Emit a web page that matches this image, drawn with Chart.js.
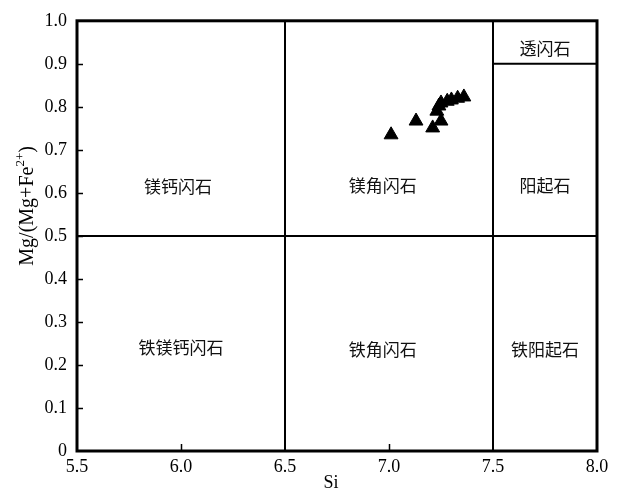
<!DOCTYPE html>
<html>
<head>
<meta charset="utf-8">
<script src="https://cdn.jsdelivr.net/npm/chart.js@4/dist/chart.umd.min.js"></script>
<style>
  html, body { margin: 0; padding: 0; background: #fff; }
  #wrap { width: 624px; height: 492px; }
</style>
</head>
<body>
<div id="wrap"><canvas id="c" width="624" height="492"></canvas></div>
<script>
// Amphibole analyses: Si (apfu) against Mg/(Mg+Fe2+)
const siValues  = [7.01, 7.13, 7.21, 7.25, 7.23, 7.24, 7.25, 7.28, 7.30, 7.33, 7.36];
const mgNumbers = [0.735, 0.767, 0.751, 0.767, 0.790, 0.802, 0.809, 0.813, 0.816, 0.820, 0.823];

// Axis ticks
const xTicks = [5.5, 6.0, 6.5, 7.0, 7.5, 8.0];
const yTicks = [0, 0.1, 0.2, 0.3, 0.4, 0.5, 0.6, 0.7, 0.8, 0.9, 1.0];

// Classification field boundaries (Si, Mg#) pairs
const boundaryA = [[6.5, 0], [6.5, 1]];
const boundaryB = [[7.5, 0], [7.5, 1]];
const boundaryC = [[5.5, 0.5], [8.0, 0.5]];
const boundaryD = [[7.5, 0.9], [8.0, 0.9]];

// Field names and where they sit in data space
const fieldNames = ['镁钙闪石', '镁角闪石', '阳起石', '透闪石', '铁镁钙闪石', '铁角闪石', '铁阳起石'];
const fieldSi    = [5.985, 6.97, 7.75, 7.75, 6.0, 6.97, 7.75];
const fieldMg    = [0.615, 0.618, 0.618, 0.935, 0.24, 0.235, 0.235];

const SERIF = '"Liberation Serif", "Times New Roman", serif';
const CJK = '"Noto Sans CJK SC", sans-serif';

function lineSet(pairs) {
  return {
    data: pairs.map(p => ({ x: p[0], y: p[1] })),
    showLine: true,
    borderColor: '#000',
    borderWidth: 2,
    pointRadius: 0,
    pointHoverRadius: 0,
    fill: false,
    order: 2
  };
}

const diagramPlugin = {
  id: 'diagram',
  beforeDatasetsDraw(chart) {
    const ctx = chart.ctx;
    const xs = chart.scales.x, ys = chart.scales.y;
    ctx.save();
    ctx.fillStyle = '#111';
    ctx.font = '17px ' + CJK;
    ctx.textAlign = 'center';
    ctx.textBaseline = 'middle';
    fieldNames.forEach((n, i) => {
      ctx.fillText(n, xs.getPixelForValue(fieldSi[i]), ys.getPixelForValue(fieldMg[i]));
    });
    ctx.restore();
  },
  afterDatasetsDraw(chart) {
    const ctx = chart.ctx;
    const a = chart.chartArea;
    const xs = chart.scales.x, ys = chart.scales.y;
    ctx.save();
    ctx.strokeStyle = '#000';
    // inward tick marks
    ctx.lineWidth = 1.5;
    ctx.beginPath();
    yTicks.forEach(v => {
      if (v <= 0 || v >= 1) return;
      const py = Math.round(ys.getPixelForValue(v)) + 0.5;
      ctx.moveTo(a.left, py);
      ctx.lineTo(a.left + 6, py);
    });
    [6.0, 7.0].forEach(v => {
      const px = Math.round(xs.getPixelForValue(v)) + 0.5;
      ctx.moveTo(px, a.bottom);
      ctx.lineTo(px, a.bottom - 7);
    });
    ctx.stroke();
    // frame
    ctx.lineWidth = 3;
    ctx.strokeRect(a.left, a.top, a.right - a.left, a.bottom - a.top);

    // axis titles
    ctx.fillStyle = '#000';
    ctx.font = '18px ' + SERIF;
    ctx.textAlign = 'center';
    ctx.textBaseline = 'middle';
    ctx.fillText('Si', (a.left + a.right) / 2 - 6, 483);

    // rotated y title with superscript
    ctx.translate(26, (a.top + a.bottom) / 2 - 30);
    ctx.rotate(-Math.PI / 2);
    const main = 'Mg/(Mg+Fe';
    const sup = '2+';
    const tail = ')';
    ctx.font = '20px ' + SERIF;
    const w1 = ctx.measureText(main).width;
    const w3 = ctx.measureText(tail).width;
    ctx.font = '13px ' + SERIF;
    const w2 = ctx.measureText(sup).width;
    let x = -(w1 + w2 + w3) / 2;
    ctx.textAlign = 'left';
    ctx.textBaseline = 'alphabetic';
    ctx.font = '20px ' + SERIF;
    ctx.fillText(main, x, 7);
    x += w1;
    ctx.font = '13px ' + SERIF;
    ctx.fillText(sup, x, -2);
    x += w2;
    ctx.font = '20px ' + SERIF;
    ctx.fillText(tail, x, 7);
    ctx.restore();
  }
};

new Chart(document.getElementById('c'), {
  type: 'scatter',
  data: {
    datasets: [
      {
        data: siValues.map((s, i) => ({ x: s, y: mgNumbers[i] })),
        pointStyle: 'triangle',
        pointRadius: 8,
        pointHoverRadius: 8,
        backgroundColor: '#000',
        borderColor: '#000',
        borderWidth: 1,
        order: 1
      },
      lineSet(boundaryA),
      lineSet(boundaryB),
      lineSet(boundaryC),
      lineSet(boundaryD)
    ]
  },
  options: {
    responsive: false,
    animation: false,
    events: [],
    layout: { padding: { top: 17, right: 27, left: 0, bottom: 0 } },
    plugins: { legend: { display: false }, tooltip: { enabled: false } },
    scales: {
      x: {
        type: 'linear',
        min: 5.5, max: 8.0,
        afterBuildTicks: s => { s.ticks = xTicks.map(v => ({ value: v })); },
        afterFit: s => { s.height = 41; },
        grid: { display: false, drawTicks: false },
        border: { display: false },
        ticks: {
          color: '#000',
          padding: 5,
          maxRotation: 0,
          font: { family: SERIF, size: 18 },
          callback: v => v.toFixed(1)
        }
      },
      y: {
        type: 'linear',
        min: 0, max: 1.0,
        afterBuildTicks: s => { s.ticks = yTicks.map(v => ({ value: v })); },
        afterFit: s => { s.width = 77; },
        grid: { display: false, drawTicks: false },
        border: { display: false },
        ticks: {
          color: '#000',
          padding: 10,
          font: { family: SERIF, size: 18 },
          callback: v => (v === 0 ? '0' : v.toFixed(1))
        }
      }
    }
  },
  plugins: [diagramPlugin]
});
</script>
</body>
</html>
